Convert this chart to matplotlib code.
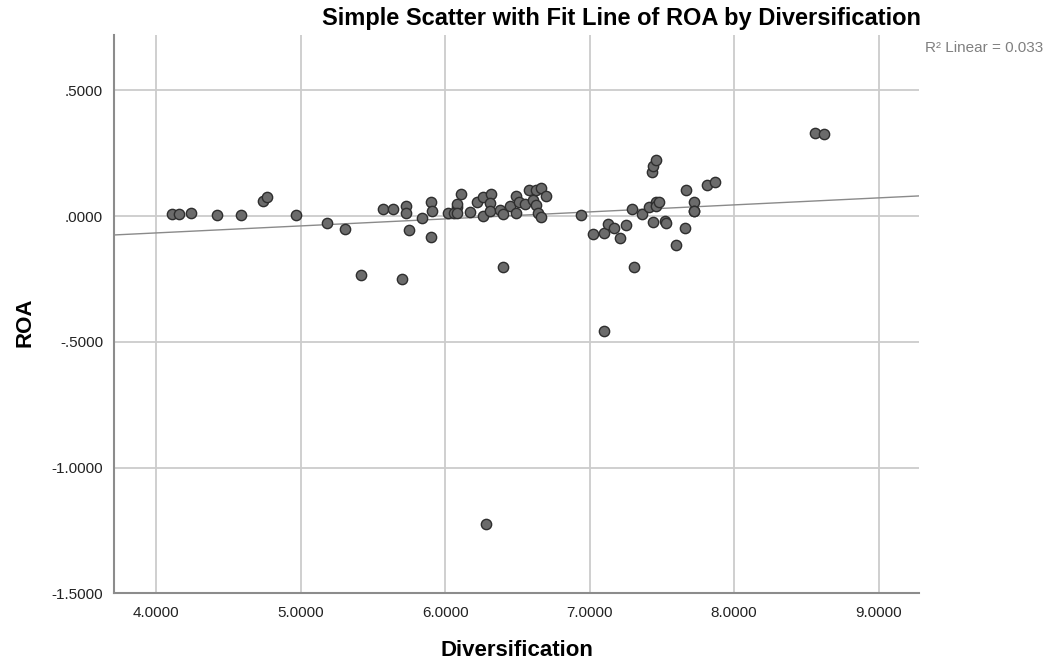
import numpy as np
import matplotlib
matplotlib.use("Agg")
import matplotlib.pyplot as plt

# Datos (Diversification vs ROA)
diversification = [
    4.11, 4.16, 4.24, 4.42, 4.59, 4.74, 4.77, 4.97, 5.18, 5.31, 5.42, 5.57, 5.64, 5.70,
    5.73, 5.73, 5.75, 5.84, 5.90, 5.91, 5.90,
    6.02, 6.08, 6.08, 6.06, 6.08, 6.11, 6.17, 6.22, 6.26, 6.26, 6.32, 6.31, 6.31, 6.38,
    6.40, 6.40, 6.45, 6.49, 6.49, 6.51, 6.55, 6.58, 6.63, 6.66, 6.61, 6.63, 6.64, 6.66, 6.70,
    6.28,
    6.94, 7.02, 7.10, 7.10, 7.13, 7.17, 7.21, 7.25, 7.29, 7.31, 7.36, 7.41, 7.43, 7.44,
    7.46, 7.44, 7.46, 7.46, 7.48, 7.52, 7.53, 7.60, 7.66, 7.67, 7.72, 7.72, 7.72, 7.81,
    7.87, 8.56, 8.62,
]
roa = [
    0.008, 0.008, 0.011, 0.003, 0.005, 0.062, 0.078, 0.005, -0.028, -0.052, -0.234, 0.028, 0.030, -0.251,
    0.041, 0.011, -0.053, -0.009, 0.056, 0.019, -0.082,
    0.011, 0.037, 0.050, 0.014, 0.011, 0.087, 0.017, 0.056, 0.077, 0.001, 0.090, 0.054, 0.021, 0.024,
    0.008, -0.202, 0.040, 0.082, 0.011, 0.056, 0.050, 0.106, 0.103, 0.114, 0.063, 0.044, 0.013, -0.003, 0.079,
    -1.224,
    0.003, -0.069, -0.065, -0.455, -0.032, -0.045, -0.085, -0.034, 0.030, -0.204, 0.009, 0.037, 0.176, 0.198,
    0.222, -0.022, 0.057, 0.040, 0.057, -0.019, -0.029, -0.114, -0.046, 0.103, 0.056, 0.021, 0.019, 0.124,
    0.134, 0.331, 0.325,
]

x_ticks = [4.0, 5.0, 6.0, 7.0, 8.0, 9.0]
x_tick_labels = ["4.0000", "5.0000", "6.0000", "7.0000", "8.0000", "9.0000"]
y_ticks = [0.5, 0.0, -0.5, -1.0, -1.5]
y_tick_labels = [".5000", ".0000", "-.5000", "-1.0000", "-1.5000"]
r2_text = "R\u00b2 Linear = 0.033"

plt.rcParams['font.family'] = ['Liberation Sans', 'DejaVu Sans']

fig = plt.figure(figsize=(10.51, 6.63), dpi=100)
ax = fig.add_axes([0.1088, 0.1050, 0.7656, 0.8420])

x = np.array(diversification)
y = np.array(roa)

# Recta de ajuste lineal
pendiente, intercepto = np.polyfit(x, y, 1)
xlim = (3.71, 9.28)
xs = np.array(xlim)
ax.plot(xs, intercepto + pendiente * xs, color='#8a8a8a', linewidth=1.0, zorder=2)

ax.scatter(x, y, s=55, facecolor='#6b6b6b', edgecolor='#2e2e2e', linewidth=1.0, zorder=3)

ax.set_xlim(*xlim)
ax.set_ylim(-1.5, 0.72)
ax.set_xticks(x_ticks)
ax.set_xticklabels(x_tick_labels)
ax.set_yticks(y_ticks)
ax.set_yticklabels(y_tick_labels)
ax.tick_params(length=0, labelsize=11, colors='#222222')
ax.tick_params(axis='x', pad=9)
ax.tick_params(axis='y', pad=8)

ax.grid(True, color='#cccccc', linewidth=1.3, zorder=0)
ax.set_axisbelow(True)
for lado in ['top', 'right']:
    ax.spines[lado].set_visible(False)
for lado in ['left', 'bottom']:
    ax.spines[lado].set_color('#8c8c8c')
    ax.spines[lado].set_linewidth(1.5)

fig.text(621 / 1051, 1 - 18 / 663, "Simple Scatter with Fit Line of ROA by Diversification",
         ha='center', va='center', fontsize=17, fontweight='bold')
fig.text(925 / 1051, 1 - 48 / 663, r2_text, ha='left', va='center', fontsize=11, color='#808080')
fig.text(25 / 1051, 1 - 322 / 663, "ROA", rotation=90, ha='center', va='center',
         fontsize=16, fontweight='bold')
fig.text(517 / 1051, 1 - 650 / 663, "Diversification", ha='center', va='center',
         fontsize=16, fontweight='bold')

fig.savefig("out.png", dpi=100)
